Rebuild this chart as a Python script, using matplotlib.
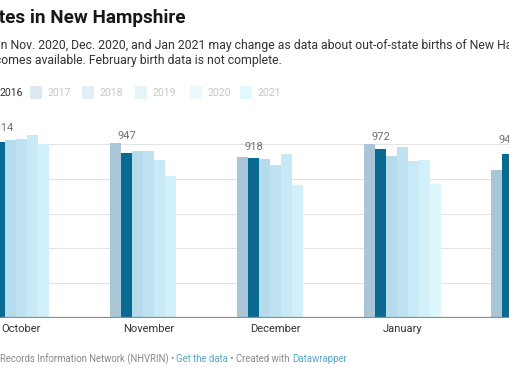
import matplotlib
matplotlib.use("Agg")
import matplotlib.pyplot as plt
import numpy as np
from matplotlib.patches import Rectangle

# ---------------- data ----------------
months = ["October", "November", "December", "January", "February"]
years = ["2015", "2016", "2017", "2018", "2019", "2020", "2021"]
births_2015 = [990, 1004, 927, 1000, 852]
births_2016 = [1014, 947, 918, 972, 941]
births_2017 = [1023, 960, 915, 929, 900]
births_2018 = [1029, 960, 877, 980, 985]
births_2019 = [1054, 907, 940, 900, 880]
births_2020 = [1002, 817, 766, 910, 860]
births_2021 = [np.nan, np.nan, np.nan, 769, 420]
series = [births_2015, births_2016, births_2017, births_2018,
          births_2019, births_2020, births_2021]
label_values = births_2016
grid_values = [200, 400, 600, 800, 1000]

colors = ["#a9c6d6", "#0b6a91", "#b5dbed", "#bee2f2", "#c8e9f6", "#d2f0fa", "#dbf7fd"]
legend_swatch = ["#a9c6d6", "#0b6a91", "#dce9f1", "#e1eef5", "#e6f3f9", "#ecf7fb", "#e2f8fc"]

W, H = 510, 382
fig = plt.figure(figsize=(W / 100, H / 100), dpi=100)
FONT = "Roboto"

# ---------------- axes ----------------
base_px = 318.0
top_px = 120.0
px_per_unit = (318.0 - 144.0) / 1000.0
ax = fig.add_axes([0, (H - base_px) / H, 1, (base_px - top_px) / H])
c0_px, step_px, barw_px = 21.5, 127.0, 10.9
ax.set_xlim(-c0_px / step_px, (W - c0_px) / step_px)
ax.set_ylim(0, (base_px - top_px) / px_per_unit)
for s in ax.spines.values():
    s.set_visible(False)
ax.set_xticks([])
ax.set_yticks([])
ax.patch.set_alpha(0)

for g in grid_values:
    ax.axhline(g, color="#e3e3e3", lw=0.8, zorder=0)

bw = barw_px / step_px
x = np.arange(len(months))
for j, vals in enumerate(series):
    ax.bar(x + (j - 3) * bw, vals, width=bw, color=colors[j], lw=0, zorder=2)
ax.axhline(0, color="#8c8c8c", lw=1.6, zorder=3)

# value labels (above group max, centred on 2016 bar)
for i in range(len(months)):
    gmax = np.nanmax([s[i] for s in series])
    v = label_values[i]
    ax.annotate(f"{v:,}", xy=(x[i] - 2 * bw, gmax), xytext=(0, 2),
                textcoords="offset pixels", ha="center", va="bottom",
                fontsize=8, color="#707070", family=FONT, zorder=4,
                annotation_clip=False)

# month labels
for i, m in enumerate(months):
    col = "#e8a84a" if m == "February" else "#333333"
    ax.text(x[i], -(332 - base_px) / px_per_unit, m, ha="center", va="baseline",
            fontsize=8, color=col, family=FONT)

# ---------------- text helpers ----------------
fig.canvas.draw()
rend = fig.canvas.get_renderer()


def width_px(s, **kw):
    t = fig.text(0, 0, "|" + s + "|", **kw)
    t2 = fig.text(0, 0, "||", **kw)
    w = t.get_window_extent(rend).width - t2.get_window_extent(rend).width
    t.remove(); t2.remove()
    return w


def ftext(xpx, ypx, s, **kw):
    return fig.text(xpx / W, 1 - ypx / H, s, va="baseline", ha="left", **kw)


# title
tkw = dict(fontsize=13.6, fontweight="bold", color="#181818", family=FONT)
pre = "Birth ra"
ftext(-width_px(pre, **tkw) - 1, 23, pre + "tes in New Hampshire", **tkw)

# subtitle
skw = dict(fontsize=8.85, color="#333333", family=FONT)
pre1 = "Note: Birth data i"
ftext(-width_px(pre1, **skw) + 1, 49,
      pre1 + "n Nov. 2020, Dec. 2020, and Jan 2021 may change as data about out-of-state births of New Hampshire residents",
      **skw)
pre2 = "Hampshire residents bec"
ftext(-width_px(pre2, **skw) + 1, 64,
      pre2 + "omes available. February birth data is not complete.", **skw)

# legend
lkw = dict(fontsize=7.6, family=FONT)
sw_x = [-70, -18, 30, 82, 135, 190, 240]
for j, yr in enumerate(years):
    rx = sw_x[j]
    fig.patches.append(Rectangle((rx / W, 1 - 98.5 / H), 12 / W, 12 / H,
                                 transform=fig.transFigure, color=legend_swatch[j], lw=0))
    col = "#333333" if yr in ("2015", "2016") else "#c6c6c6"
    ftext(rx + 17.5, 96, yr, color=col, **lkw)

# footer
fkw = dict(fontsize=6.95, family=FONT)
pieces = [("Source: New Hampshire Vital ", "#8a8a8a"),
          ("Records Information Network (NHVRIN) \u2022 ", "#8a8a8a"),
          ("Get the data", "#5aa6c8"),
          (" \u2022 Created with ", "#8a8a8a"),
          ("Datawrapper", "#5aa6c8")]
xp = -width_px(pieces[0][0], **fkw)
for s, c in pieces:
    ftext(xp, 362, s, color=c, **fkw)
    xp += width_px(s, **fkw)

fig.savefig("out.png", dpi=100)
